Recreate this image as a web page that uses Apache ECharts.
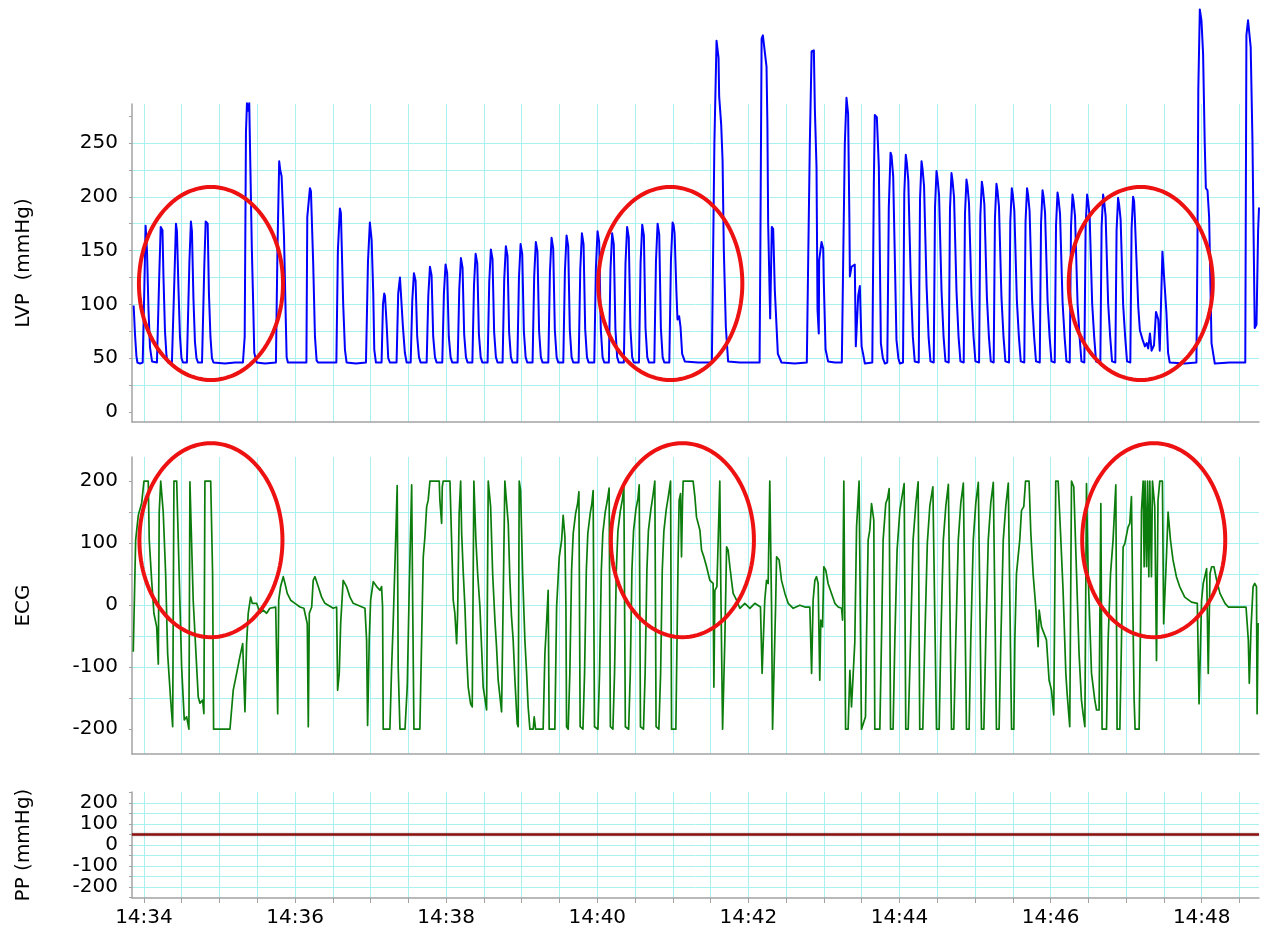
<!DOCTYPE html>
<html>
<head>
<meta charset="utf-8">
<script src="https://cdn.jsdelivr.net/npm/echarts@6/dist/echarts.min.js"></script>
<style>
  html, body { margin: 0; padding: 0; background: #ffffff; }
  #chart { width: 1274px; height: 939px; }
</style>
</head>
<body>
<div id="chart"></div>
<script>
// Time is in seconds after 14:34:00.

// Left ventricular pressure, [seconds, mmHg]
const lvpTrace = [
  [-8.2,99],[-7.1,72],[-6.0,52],[-5.2,46],[-3.2,45],[-1.0,46],
  [0.2,110],[1.3,173],[2.4,150],[3.6,95],[4.8,60],[6.4,47],[10.3,46],
  [11.1,46],[12.1,125],[13.3,172],[14.7,169],[15.5,125],[16.7,75],[17.9,52],[19.1,46],[22.2,46],
  [23.0,46],[24.2,125],[25.4,175],[26.2,168],[27.4,115],[28.6,70],[29.8,50],[31.0,46],[34.1,46],
  [34.9,46],[36.1,140],[37.3,177],[38.1,168],[39.3,105],[40.5,65],[41.7,50],[42.9,46],[46.1,46],
  [46.9,46],[47.9,135],[49.0,177],[50.6,175],[51.6,110],[52.8,70],[54.0,50],[55.2,46],[64.3,45],[72.3,46],[78.6,46],
  [80.0,70],[81.0,260],[81.8,287],[82.8,280],[83.6,287],[84.5,228],[85.7,150],[86.8,98],[87.6,55],[89.5,46],[96.1,45],[104.8,46],
  [106.0,150],[107.4,233],[108.2,225],[109.3,219],[111.2,163],[112.7,82],[113.3,51],[114.3,46],[121.5,46],[129.0,46],
  [129.7,181],[131.8,208],[132.6,205],[134.4,138],[135.8,70],[137.1,48],[138.2,46],[145.3,46],[152.8,46],
  [154.0,150],[155.6,189],[156.4,185],[158.2,101],[159.6,58],[160.9,46],[168.3,45],[176.3,46],
  [177.9,140],[179.4,176],[180.8,160],[182.1,110],[182.9,58],[184.2,46],[188.7,46],
  [189.8,100],[190.8,110],[191.4,108],[192.7,82],[194.0,50],[195.3,46],[200.6,46],
  [201.9,110],[203.3,125],[204.1,124],[205.6,80],[207.2,55],[208.6,46],
  [211.8,46],[213.1,104],[214.4,129],[215.7,122],[217.0,70],[218.4,51],[219.7,46],
  [224.5,46],[225.8,108],[227.1,135],[228.4,127],[229.7,70],[231.1,51],[232.4,46],
  [236.9,46],[238.2,110],[239.5,137],[240.8,129],[242.1,70],[243.5,51],[244.8,46],
  [249.1,46],[250.4,114],[251.7,143],[253.0,134],[254.3,72],[255.7,51],[257.0,46],
  [260.8,46],[262.1,118],[263.4,147],[264.7,138],[266.0,72],[267.4,51],[268.7,46],
  [272.9,46],[274.2,121],[275.5,151],[276.8,142],[278.1,74],[279.5,51],[280.8,46],
  [284.8,46],[286.1,123],[287.4,154],[288.7,145],[290.0,74],[291.4,51],[292.7,46],
  [296.5,46],[297.8,125],[299.1,156],[300.4,147],[301.7,75],[303.1,51],[304.4,46],
  [308.6,46],[309.9,126],[311.2,158],[312.5,149],[313.8,75],[315.2,51],[316.5,46],
  [321.1,46],[322.4,130],[323.7,162],[325.0,152],[326.3,76],[327.7,51],[329.0,46],
  [333.0,46],[334.3,131],[335.6,164],[336.9,154],[338.2,76],[339.6,51],[340.9,46],
  [345.2,46],[346.5,133],[347.8,166],[349.1,156],[350.4,77],[351.8,51],[353.1,46],
  [357.6,46],[358.9,134],[360.2,168],[361.5,158],[362.8,77],[364.2,51],[365.5,46],
  [369.2,46],[370.5,133],[371.8,166],[373.1,156],[374.4,77],[375.8,51],[377.1,46],
  [381.1,46],[382.4,138],[383.7,172],[385.0,162],[386.3,78],[387.7,51],[389.0,46],
  [393.1,46],[394.4,139],[395.7,174],[397.0,164],[398.3,78],[399.7,51],[401.0,46],
  [405.3,46],[406.6,140],[407.9,175],[409.2,165],[410.5,78],[411.9,51],[413.2,46],
  [417.2,46],[418.5,141],[419.8,176],[420.6,174],[421.4,166],[422.8,113],[423.7,86],[425.0,89],[426.1,79],[427.4,54],[429.5,47],[440.0,46],[451.0,46],
  [453.0,250],[454.7,345],[456.3,329],[456.8,293],[457.6,293],[458.4,267],[459.5,234],[460.5,150],[462.1,79],[463.9,47],[473.2,46],[488.9,46],
  [489.5,150],[490.5,347],[491.5,350],[492.5,351],[494.4,321],[495.1,268],[495.7,175],[497.3,87],[498.6,172],[499.7,170],[501.0,113],[503.4,54],[506.3,46],[516.9,45],[526.4,46],
  [527.6,150],[528.8,250],[530.2,335],[532.0,336],[532.8,281],[534.1,228],[534.9,95],[535.9,73],[536.2,141],[538.1,158],[539.4,152],[539.9,120],[541.3,58],[543.3,47],[548.7,46],[554.2,46],
  [555.4,150],[556.6,250],[557.9,292],[559.2,277],[560.2,180],[560.6,126],[561.9,135],[564.5,137],[565.3,61],[567.2,108],[568.5,117],[569.9,61],[571.1,54],[572.5,45],[578.4,46],
  [579.6,210],[580.4,276],[582.0,274],[583.6,228],[585.2,64],[586.8,50],[588.4,45],
  [590.3,46],[591.5,190],[592.9,241],[593.7,238],[595.0,219],[597.6,67],[599.1,50],[600.3,45],
  [602.8,46],[603.8,203],[605.0,239],[605.8,232],[607.0,215],[609.0,120],[610.6,70],[612.1,47],
  [615.3,46],[616.3,198],[617.5,233],[618.3,226],[619.5,210],[621.5,117],[623.1,70],[624.6,47],
  [627.2,46],[628.2,190],[629.4,224],[630.2,217],[631.4,202],[633.4,112],[635.0,70],[636.5,47],
  [639.1,46],[640.1,189],[641.3,222],[642.1,215],[643.3,200],[645.3,111],[646.9,70],[648.4,47],
  [651.0,46],[652.0,184],[653.2,216],[654.0,210],[655.2,194],[657.2,108],[658.8,70],[660.3,47],
  [663.2,46],[664.2,182],[665.4,214],[666.2,208],[667.4,193],[669.4,107],[671.0,70],[672.5,47],
  [674.8,46],[675.8,180],[677.0,212],[677.8,206],[679.0,191],[681.0,106],[682.6,70],[684.1,47],
  [687.0,46],[688.0,177],[689.2,208],[690.0,202],[691.2,187],[693.2,104],[694.8,70],[696.3,47],
  [699.1,46],[700.1,177],[701.3,208],[702.1,202],[703.3,187],[705.3,104],[706.9,70],[708.4,47],
  [711.4,46],[712.4,175],[713.6,206],[714.4,200],[715.6,185],[717.6,103],[719.2,70],[720.7,47],
  [723.3,46],[724.3,173],[725.5,204],[726.3,198],[727.5,184],[729.5,102],[731.1,70],[732.6,47],
  [735.2,46],[736.2,172],[737.4,202],[738.2,196],[739.4,182],[741.4,101],[743.0,70],[744.5,47],
  [746.8,46],[747.8,172],[749.0,202],[749.8,196],[751.0,182],[753.0,101],[754.6,70],[756.1,47],
  [759.5,46],[760.5,172],[761.7,202],[762.5,196],[763.7,182],[765.7,101],[767.3,70],[768.8,47],
  [771.4,46],[772.4,169],[773.6,199],[774.4,193],[775.6,179],[777.6,100],[779.2,70],[780.7,47],
  [783.3,46],[784.3,170],[785.5,200],[786.3,196],[786.9,181],[788.3,180],[789.6,98],[790.9,76],[793.1,67],[794.9,61],[796.3,64],[797.5,59],[798.9,73],[800.2,57],[802.1,62],[803.7,93],[805.5,86],[806.7,57],[808.8,149],[810.1,149],[812.0,92],[813.3,55],[814.6,46],[826.5,45],[835.8,46],
  [836.6,150],[837.3,300],[838.5,374],[839.8,364],[841.1,333],[842.4,250],[843.3,208],[844.6,206],[845.9,181],[847.8,64],[850.4,45],[862.3,46],[874.6,46],
  [875.5,350],[876.8,364],[878.9,339],[880.3,253],[882.1,78],[883.5,81],[884.8,169],[885.5,190]
];

// ECG, [seconds, value]
const ecgTrace = [
  [-8.5,-75],[-7.7,0],[-6.6,105],[-4.5,145],[-1.8,165],[0,200],[3.4,200],[4.2,105],[6.1,40],[7.9,-13],[10.1,-35],[11.4,-95],
  [12.1,150],[13.3,200],[14.8,200],[15.3,150],[17.2,51],[18.8,-78],[21.2,-153],[22.8,-196],[23.8,200],[26.0,200],[27.8,62],
  [29.9,-99],[32.0,-185],[33.9,-180],[35.7,-200],[36.5,199],[37.9,199],[39.1,8],[41.3,-78],[43.1,-148],[44.5,-158],[46.6,-153],
  [47.6,-175],[48.4,200],[53.0,200],[54.5,51],[55.3,-200],[68.3,-200],[70.9,-137],[73.6,-110],[76.2,-83],[78.4,-62],[80.2,-172],
  [81.5,-62],[82.8,-13],[84.7,13],[86.0,3],[89.5,3],[92.1,-13],[94.7,-8],[97.4,-13],[100.0,-5],[104.6,-3],[106.2,-175],[107.0,8],
  [108.5,30],[110.6,46],[112.0,35],[113.8,19],[116.5,8],[119.9,3],[123.9,-3],[127.0,-5],[129.7,-30],[130.5,-196],[131.3,-13],
  [133.2,-3],[134.4,40],[135.8,46],[138.4,30],[141.1,13],[143.7,3],[150.3,-5],[153.0,-3],[153.8,-137],[155.1,-110],[156.2,-30],
  [158.2,40],[160.9,30],[163.6,13],[166.2,3],[175.5,-5],[176.8,-56],[177.6,-194],[178.9,-56],[180.0,8],[182.1,38],[184.8,30],
  [187.4,24],[188.7,30],[189.5,-3],[190.0,-200],[195.3,-200],[196.7,-99],[197.9,-30],[200.1,120],[201.1,193],[201.9,-100],
  [203.3,-200],[207.3,-200],[209.1,-131],[210.7,30],[212.6,194],[213.4,3],[214.4,-200],[219.1,-200],[220.5,-56],[221.8,78],
  [223.1,110],[224.5,159],[225.7,169],[227.1,200],[234.5,200],[235.0,169],[236.4,132],[236.9,191],[237.6,200],[243.0,200],
  [244.3,105],[245.6,8],[246.9,-13],[248.3,-62],[249.1,-13],[250.3,148],[251.5,200],[252.3,116],[253.6,51],[254.9,-3],
  [256.2,-78],[257.5,-132],[259.4,-159],[260.7,-164],[262.0,200],[263.6,105],[265.0,51],[266.8,-3],[268.1,-67],[269.4,-132],
  [272.1,-169],[273.4,200],[275.3,159],[276.9,51],[278.7,-24],[280.0,-67],[281.3,-121],[284.0,-172],[285.3,-175],[286.6,200],
  [288.0,200],[289.3,132],[290.6,40],[291.9,-19],[293.2,-56],[294.6,-121],[296.4,-191],[297.2,-196],[298.0,200],[299.1,185],
  [300.7,51],[302.5,-56],[303.9,-110],[305.1,-164],[306.5,-200],[309.1,-200],[309.9,-180],[311.0,-200],[317.0,-200],[318.4,-78],
  [319.7,-30],[321.0,24],[321.8,-200],[326.3,-200],[327.7,-3],[329.8,78],[331.7,105],[332.9,145],[334.3,110],[335.1,-3],
  [335.6,-196],[336.9,-200],
  [338.2,-110],[339.6,56],[340.9,116],[342.8,148],[344.4,164],[345.4,183],[346.4,-196],[348.6,-200],
  [349.9,-110],[351.3,56],[352.5,116],[354.4,148],[355.7,164],[356.7,185],[357.8,-196],[360.5,-200],
  [361.8,-110],[363.2,56],[364.4,116],[366.3,150],[367.9,168],[369.4,189],[370.4,-196],[372.4,-200],
  [373.7,-110],[375.1,56],[376.4,120],[378.3,152],[379.9,170],[381.1,191],[382.3,-196],[384.9,-200],
  [386.2,-110],[387.5,56],[388.8,120],[390.7,155],[392.3,172],[393.3,194],[394.3,-196],[396.7,-200],
  [398.0,-110],[399.4,56],[400.6,120],[402.6,155],[404.1,175],[405.7,200],[406.7,-196],[408.9,-200],
  [410.3,-110],[411.6,56],[412.9,120],[414.8,155],[416.4,175],[418.2,200],[419.0,-200],[422.4,-200],
  [424.2,78],[425.0,169],[426.1,180],[426.9,78],[427.7,169],[428.2,200],[436.1,200],[437.5,175],[438.8,142],[441.5,121],
  [442.8,89],[444.6,78],[446.8,62],[449.4,40],[452.0,35],[452.6,-132],[453.4,24],[455.0,30],[457.3,200],[458.1,30],[459.5,-200],
  [461.3,-56],[462.7,94],[463.9,89],[465.3,62],[466.6,40],[467.9,19],[470.6,8],[473.2,-5],[477.2,3],[481.2,-5],[485.1,3],
  [489.6,-3],[490.9,-110],[493.0,8],[494.4,40],[495.7,35],[497.0,200],[498.4,-3],[499.2,-200],[500.5,-200],[501.6,-3],
  [502.4,78],[504.4,73],[506.3,40],[509.0,19],[511.6,3],[515.6,-5],[520.9,0],[524.9,-3],[528.8,-3],[530.2,-110],[531.4,8],
  [532.8,40],[534.1,46],[535.4,35],[536.7,-121],[537.5,-24],[538.9,-35],[539.9,62],[541.5,56],[543.3,35],[546.0,19],
  [548.7,3],[551.3,-3],[554.0,-5],[554.8,-24],[555.8,200],[557.2,-200],[559.2,-200],[560.6,-105],[561.9,-164],[563.2,-164],
  [564.5,-60],[565.9,126],[567.1,129],[567.9,200],[569.0,200],[569.8,-200],[571.1,-200],[573.0,-180],[573.8,-56],[575.1,105],
  [576.4,121],[577.8,164],[579.6,137],[580.4,-200],[584.4,-200],
  [585.7,-56],[587.0,105],[589.1,164],[590.5,172],[591.8,188],[592.9,-200],[594.9,-200],
  [596.3,-56],[598.1,89],[600.3,153],[602.4,180],[603.7,196],[605.0,-200],[606.9,-200],
  [608.8,-56],[610.8,105],[613.0,164],[614.8,199],[616.1,-200],[618.5,-200],
  [620.1,-56],[622.1,100],[624.1,160],[626.5,191],[629.4,-200],[631.5,-200],
  [632.8,-56],[634.8,105],[636.8,160],[638.8,195],[641.3,-200],[643.1,-200],
  [644.7,-56],[646.7,105],[648.7,165],[650.7,197],[653.2,-200],[655.3,-200],
  [656.6,-56],[658.6,105],[660.6,165],[662.6,198],[665.1,-200],[667.0,-200],
  [668.5,-56],[670.5,105],[672.5,165],[674.5,198],[677.0,-200],[679.1,-200],
  [680.5,-56],[682.4,105],[684.4,160],[686.4,197],[689.0,-200],[690.8,-200],
  [691.6,-56],[692.9,51],[695.5,105],[696.9,153],[698.7,159],[700.1,200],[702.9,200],[704.3,116],[706.1,51],[708.2,-3],
  [710.1,-67],[710.9,-8],[712.8,-35],[716.7,-56],[718.8,-121],[720.7,-137],[722.5,-177],[724.1,200],[726.0,200],[727.9,116],
  [729.9,24],[732.1,-110],[733.1,-142],[735.2,-196],[736.6,200],[738.4,191],[740.6,51],[742.6,-78],[744.5,-153],[745.8,-175],
  [747.2,-196],[748.5,196],[749.8,51],[752.5,-110],[755.1,-153],[756.5,-169],[758.5,-169],[759.9,164],[760.9,-200],[764.4,-200],
  [765.7,-56],[767.6,51],[769.6,105],[771.8,194],[772.8,-200],[775.0,-200],[776.3,-56],[777.6,94],[778.9,99],[781.5,126],
  [782.9,132],[784.2,175],[785.5,-30],[786.3,-150],[787.1,-200],[790.3,-200],[791.4,-30],[792.2,153],[793.5,200],[794.3,62],
  [795.0,200],[796.2,62],[797.0,200],[798.0,46],[798.8,200],[800.1,46],[800.9,200],[802.7,159],[804.1,-89],[805.3,169],
  [806.7,200],[808.8,200],[809.8,-30],[812.0,78],[813.3,150],[815.2,105],[817.2,73],[819.9,46],[822.5,30],[826.5,13],
  [831.9,5],[836.5,3],[837.9,-159],[839.9,8],[841.2,35],[843.9,59],[845.2,-110],[846.6,51],[847.9,62],[849.7,62],
  [851.9,40],[854.5,19],[858.5,3],[861.1,-3],[875.2,-3],[877.0,-56],[877.8,-126],[879.2,-35],[880.8,30],[882.1,35],
  [883.5,30],[884.0,-175],[884.8,-30],[885.5,-30]
];

// Pulse pressure, [seconds, mmHg]
const ppTrace = [[-9.5,50],[885.5,50]];

// Highlighted episodes: [centre seconds, centre value, half-width seconds, half-height value]
const lvpRings = [[53.2,119.4,57.2,89.7],[418.0,119.4,57.2,89.7],[791.6,119.4,57.2,89.7]];
const ecgRings = [[53.2,104.8,56.8,156.5],[427.6,104.8,56.8,156.5],[801.9,104.8,56.8,156.5]];

// Axis ticks and labels
const timeGridSeconds = [0,30,60,90,120,150,180,210,240,270,300,330,360,390,420,450,480,510,540,570,600,630,660,690,720,750,780,810,840,870];
const timeLabelSeconds = [0,120,240,360,480,600,720,840];
const lvpGridValues = [0,25,50,75,100,125,150,175,200,225,250,275];
const lvpLabelValues = [0,50,100,150,200,250];
const ecgGridValues = [-200,-150,-100,-50,0,50,100,150,200];
const ecgLabelValues = [-200,-100,0,100,200];
const ppGridValues = [-250,-200,-150,-100,-50,0,50,100,150,200,250];
const ppLabelValues = [-200,-100,0,100,200];

const FONT = "'DejaVu Sans', Verdana, sans-serif";
const GRID_COLOR = '#a9f1f1';
const AXIS_COLOR = '#a3a3a3';
const T_MIN = -9.5, T_MAX = 885.5;

function clockLabel(sec) {
  const m = 34 + Math.round(sec / 60);
  return '14:' + (m < 10 ? '0' + m : m);
}

function timeAxis(gridIndex, showLabels) {
  return {
    type: 'value', gridIndex: gridIndex, min: T_MIN, max: T_MAX,
    axisLine: { show: true, onZero: false, lineStyle: { color: AXIS_COLOR, width: 1.5 } },
    axisTick: { show: showLabels, length: 5, customValues: timeGridSeconds, lineStyle: { color: AXIS_COLOR } },
    axisLabel: showLabels ? {
      show: true, customValues: timeLabelSeconds, formatter: clockLabel,
      fontFamily: FONT, fontSize: 20, color: '#000', margin: 10
    } : { show: false },
    splitLine: { show: true, lineStyle: { color: GRID_COLOR, width: 1 } }
  };
}

function valueAxis(gridIndex, name, min, max, gridVals, labelVals) {
  return {
    type: 'value', gridIndex: gridIndex, min: min, max: max,
    name: name, nameLocation: 'middle', nameGap: 98,
    nameTextStyle: { fontFamily: FONT, fontSize: 20, color: '#000' },
    axisLine: { show: true, onZero: false, lineStyle: { color: AXIS_COLOR, width: 1.5 } },
    axisTick: { show: true, length: 3, customValues: gridVals, lineStyle: { color: AXIS_COLOR } },
    axisLabel: { show: true, customValues: labelVals, fontFamily: FONT, fontSize: 20, color: '#000', margin: 14 },
    splitLine: { show: true, showMinLine: false, showMaxLine: false, lineStyle: { color: GRID_COLOR, width: 1 } }
  };
}

function ringShape(params, api) {
  const c = api.coord([api.value(0), api.value(1)]);
  const s = api.size([api.value(2), api.value(3)]);
  const pts = [];
  for (let i = 0; i < 120; i++) {
    const a = (i / 120) * Math.PI * 2;
    pts.push([c[0] + s[0] * Math.cos(a), c[1] + s[1] * Math.sin(a)]);
  }
  return { type: 'polygon', shape: { points: pts }, style: { fill: 'none', stroke: '#ee1111', lineWidth: 4 } };
}

const chart = echarts.init(document.getElementById('chart'), null, { renderer: 'canvas' });

chart.setOption({
  animation: false,
  backgroundColor: '#ffffff',
  grid: [
    { left: 132, right: 15, top: 104, height: 318 },
    { left: 132, right: 15, top: 457, height: 297 },
    { left: 132, right: 15, top: 792, height: 106 }
  ],
  xAxis: [timeAxis(0, false), timeAxis(1, false), timeAxis(2, true)],
  yAxis: [
    valueAxis(0, 'LVP  (mmHg)', -9.3, 286.2, lvpGridValues, lvpLabelValues),
    valueAxis(1, 'ECG', -240, 239, ecgGridValues, ecgLabelValues),
    valueAxis(2, 'PP (mmHg)', -252, 252, ppGridValues, ppLabelValues)
  ],
  series: [
    {
      type: 'line', name: 'LVP', xAxisIndex: 0, yAxisIndex: 0, data: lvpTrace,
      showSymbol: false, clip: false, z: 3,
      lineStyle: { color: '#0000ff', width: 2, join: 'round' }
    },
    {
      type: 'line', name: 'ECG', xAxisIndex: 1, yAxisIndex: 1, data: ecgTrace,
      showSymbol: false, clip: false, z: 3,
      lineStyle: { color: '#0c7d0c', width: 1.7, join: 'round' }
    },
    {
      type: 'line', name: 'PP', xAxisIndex: 2, yAxisIndex: 2, data: ppTrace,
      showSymbol: false, z: 3,
      lineStyle: { color: '#8e1212', width: 2.5, shadowColor: 'rgba(0,0,0,0.35)', shadowBlur: 2 }
    },
    {
      type: 'custom', xAxisIndex: 0, yAxisIndex: 0, data: lvpRings,
      renderItem: ringShape, clip: false, silent: true, z: 10
    },
    {
      type: 'custom', xAxisIndex: 1, yAxisIndex: 1, data: ecgRings,
      renderItem: ringShape, clip: false, silent: true, z: 10
    }
  ]
});
</script>
</body>
</html>
